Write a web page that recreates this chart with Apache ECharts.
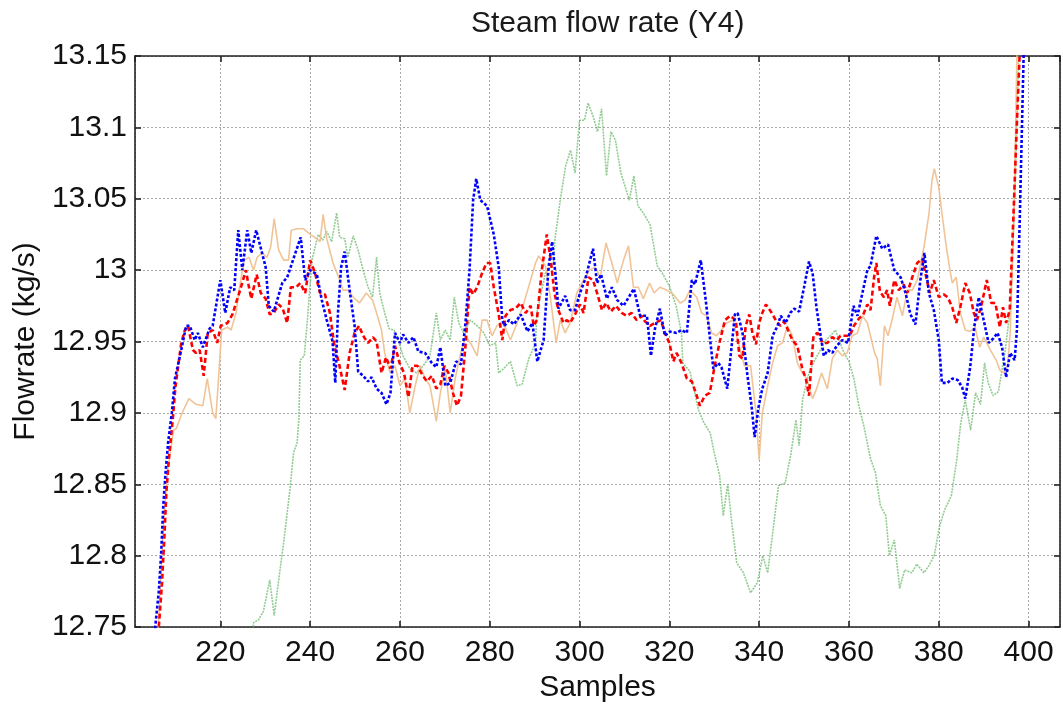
<!DOCTYPE html>
<html>
<head>
<meta charset="utf-8">
<script src="https://cdn.jsdelivr.net/npm/echarts@6/dist/echarts.min.js"></script>
<style>
html,body{margin:0;padding:0;background:#fff;}
#chart{width:1063px;height:704px;}
</style>
</head>
<body>
<div id="chart"></div>
<script>
var titleText = 'Steam flow rate (Y4)';
var xName = 'Samples';
var yName = 'Flowrate (kg/s)';

var blueSamples = [204.5,205.5,206.3,206.8,207.3,207.8,208.4,209.2,209.9,211.3,212.4,213.2,214.3,215.0,216.1,217.6,218.3,220.0,221.1,222.2,223.1,224.0,224.9,226.0,226.9,228.0,230.1,230.8,231.9,233.8,234.9,237.9,238.9,240.0,241.5,242.6,243.7,245.0,245.6,246.2,246.9,247.7,248.8,249.9,250.7,251.8,252.9,253.7,254.8,255.9,257.0,257.9,258.9,260.0,260.7,261.9,263.0,264.1,265.6,267.1,268.1,269.0,270.1,271.2,272.5,273.6,274.6,275.5,276.3,277.0,277.9,279.4,280.9,282.0,282.8,283.3,284.3,285.4,286.9,288.4,289.5,290.6,292.0,293.1,293.9,294.6,295.3,296.8,297.9,299.0,300.1,301.3,303.0,303.9,304.8,306.1,307.2,308.4,309.8,312.1,313.5,315.0,315.9,316.8,317.9,319.0,320.1,321.6,322.7,323.9,325.0,325.7,327.0,328.1,329.8,330.9,331.6,332.9,334.6,335.2,336.3,337.4,338.3,339.0,339.8,340.7,341.9,343.0,344.1,344.8,345.9,346.9,347.8,348.9,350.0,351.1,351.9,352.8,353.7,354.4,355.3,356.3,357.3,358.5,359.8,361.0,361.9,364.1,364.8,366.1,367.4,368.7,370.1,371.5,372.6,373.7,374.8,375.9,376.8,377.8,378.9,380.0,380.7,381.9,383.0,384.2,385.2,385.9,387.0,387.9,388.9,390.0,391.1,392.1,393.1,394.1,395.0,395.9,396.9,397.4,398.1,398.9,399.5];
var blueFlow = [12.70,12.75,12.775,12.80,12.835,12.858,12.88,12.90,12.924,12.944,12.961,12.961,12.951,12.956,12.946,12.959,12.961,12.993,12.970,12.988,12.986,13.028,13.000,13.028,13.012,13.028,13.002,12.975,12.971,12.991,12.995,13.023,12.993,13.000,12.997,12.979,12.965,12.950,12.921,12.970,13.002,13.013,12.986,12.961,12.929,12.926,12.922,12.925,12.917,12.914,12.906,12.914,12.956,12.949,12.955,12.949,12.953,12.943,12.942,12.935,12.932,12.946,12.919,12.921,12.936,12.934,12.963,13.000,13.049,13.064,13.049,13.045,13.025,13.002,12.965,12.961,12.965,12.962,12.969,12.957,12.963,12.936,12.951,13.002,13.020,12.998,12.973,12.982,12.972,12.972,12.984,12.994,13.015,12.991,12.997,12.980,12.988,12.979,12.975,12.987,12.968,12.968,12.940,12.959,12.973,12.954,12.957,12.956,12.958,12.956,12.993,12.990,13.007,12.979,12.931,12.935,12.932,12.917,12.969,12.970,12.956,12.926,12.905,12.883,12.903,12.917,12.928,12.954,12.961,12.968,12.963,12.970,12.973,12.971,12.988,13.006,12.998,12.973,12.954,12.940,12.944,12.942,12.947,12.951,12.949,12.975,12.968,13.000,13.003,13.024,13.015,13.018,13.000,12.995,12.984,12.969,12.962,12.993,13.012,12.984,12.972,12.951,12.921,12.921,12.924,12.923,12.918,12.910,12.932,12.960,12.981,12.965,12.949,12.952,12.956,12.946,12.925,12.942,12.937,12.958,13.044,13.150,13.25];

var redSamples = [205.0,206.3,207.0,207.5,208.0,208.6,209.4,210.0,211.3,212.1,212.8,213.9,214.6,215.4,216.3,217.2,218.3,219.3,220.1,221.6,222.7,223.7,224.6,225.7,226.2,226.9,228.1,229.0,230.1,231.0,231.9,233.0,233.9,234.9,235.7,236.9,237.8,238.9,240.0,241.1,242.2,243.3,244.4,245.4,246.4,247.7,248.8,249.9,250.9,251.8,252.9,254.0,254.8,255.9,256.9,257.9,258.9,259.9,260.9,261.9,262.8,263.9,265.1,266.0,267.1,268.1,269.0,269.9,270.8,271.8,272.7,273.6,274.6,275.5,276.3,277.2,278.3,279.3,280.1,280.9,282.0,282.8,283.5,284.6,285.7,286.9,288.0,289.1,289.8,290.5,291.6,292.7,293.6,294.4,295.3,296.4,297.2,297.9,299.0,300.1,300.9,302.0,303.0,303.9,305.0,305.9,307.0,308.1,309.4,310.5,311.6,312.7,313.9,314.6,315.7,316.8,318.1,319.0,320.0,320.9,321.6,322.7,323.9,325.0,325.9,326.8,327.9,329.0,330.1,331.3,332.4,333.5,334.8,335.6,336.3,337.0,337.8,338.5,339.3,340.0,340.7,341.5,342.6,343.7,344.7,345.6,346.7,347.4,348.5,349.6,350.4,351.1,352.1,353.0,354.1,355.2,356.3,357.3,358.1,359.3,360.2,361.1,362.2,363.2,364.1,364.8,365.6,366.1,366.9,367.8,368.5,369.1,370.1,371.1,372.2,373.0,374.1,375.2,376.3,377.0,378.0,378.9,380.0,381.1,382.0,383.0,383.9,384.8,385.9,386.9,387.8,388.5,389.4,390.7,391.7,392.6,393.6,394.3,395.0,395.8,396.7,397.4,398.0,398.7];
var redFlow = [12.70,12.75,12.78,12.81,12.845,12.87,12.895,12.918,12.949,12.958,12.961,12.944,12.942,12.944,12.926,12.956,12.958,12.949,12.961,12.963,12.969,12.979,12.988,13.000,12.991,12.980,12.997,12.984,12.980,12.969,12.970,12.976,12.973,12.963,12.988,12.988,12.991,12.984,13.007,12.998,12.984,12.983,12.970,12.947,12.935,12.916,12.942,12.956,12.961,12.954,12.949,12.953,12.950,12.928,12.939,12.931,12.947,12.935,12.928,12.911,12.933,12.933,12.926,12.922,12.926,12.917,12.920,12.933,12.928,12.914,12.905,12.912,12.947,12.988,12.983,12.988,12.998,13.005,13.005,12.988,12.969,12.951,12.968,12.972,12.973,12.977,12.970,12.975,12.961,12.965,13.000,13.025,13.007,12.984,12.972,12.963,12.965,12.963,12.969,12.976,12.970,12.995,12.993,12.984,12.972,12.977,12.971,12.975,12.970,12.968,12.970,12.965,12.968,12.964,12.961,12.963,12.965,12.956,12.949,12.936,12.942,12.935,12.924,12.922,12.914,12.905,12.912,12.914,12.933,12.951,12.965,12.968,12.965,12.940,12.938,12.961,12.969,12.956,12.948,12.963,12.970,12.976,12.971,12.965,12.961,12.964,12.956,12.951,12.947,12.931,12.924,12.912,12.954,12.956,12.949,12.949,12.953,12.951,12.954,12.954,12.954,12.961,12.966,12.969,12.976,12.972,12.995,13.005,12.985,12.981,12.986,12.975,12.993,12.986,12.990,12.984,12.995,13.005,13.008,12.998,12.984,12.993,12.981,12.983,12.981,12.974,12.963,12.974,12.991,12.984,12.970,12.965,12.974,12.993,12.977,12.977,12.960,12.974,12.963,12.972,13.044,13.103,13.150,13.25];

var orangeSamples = [205.0,206.2,207.3,208.3,209.6,210.2,211.5,213.0,214.6,216.1,217.1,218.3,219.0,219.6,220.3,221.6,222.4,223.5,224.2,225.3,226.4,227.4,228.2,229.3,230.4,231.2,232.0,233.0,234.1,235.2,235.8,237.1,238.5,240.0,241.5,242.2,242.9,243.7,245.1,246.6,247.3,248.4,249.6,251.0,252.5,253.9,254.8,255.9,256.6,257.8,258.9,260.0,261.1,262.2,263.4,264.5,265.6,266.7,268.1,269.0,270.1,271.2,272.3,273.4,274.6,275.7,277.2,278.3,279.4,280.5,281.6,283.1,284.6,286.1,287.6,289.1,290.2,290.9,292.4,293.5,294.8,295.7,296.8,297.9,299.4,300.9,302.2,303.5,304.6,305.9,307.2,308.4,309.8,310.9,312.0,313.1,314.2,315.6,316.6,317.9,319.4,320.9,322.4,323.5,324.6,326.1,327.2,328.3,329.4,330.5,331.6,332.7,334.2,335.2,336.7,338.1,339.3,340.0,340.7,341.9,343.0,344.1,345.2,346.3,347.4,348.5,349.6,350.6,351.9,352.8,353.9,355.2,356.3,357.4,358.5,359.6,360.7,361.9,363.0,364.1,364.8,365.7,366.3,367.0,367.9,368.7,369.6,370.7,371.9,373.0,374.1,375.2,376.7,377.8,378.5,379.0,380.0,380.7,381.7,382.6,383.0,383.9,384.8,385.9,387.0,388.1,389.1,390.0,391.5,392.8,393.6,394.4,395.3,395.9,396.8,397.4,398.0];
var orangeFlow = [12.70,12.75,12.82,12.86,12.888,12.889,12.900,12.910,12.906,12.905,12.924,12.900,12.896,12.924,12.958,12.960,12.958,12.970,12.986,13.007,13.009,13.000,13.009,13.012,13.009,13.016,13.036,13.014,13.007,13.007,13.028,13.029,13.029,13.025,13.022,13.020,13.039,13.022,13.005,12.993,12.986,12.986,12.981,12.977,12.984,12.979,12.970,12.958,12.942,12.928,12.933,12.919,12.924,12.900,12.919,12.933,12.924,12.919,12.894,12.914,12.931,12.900,12.924,12.940,12.954,12.949,12.940,12.965,12.965,12.954,12.961,12.963,12.951,12.963,12.977,12.993,13.005,13.010,13.003,12.981,12.949,12.965,12.956,12.963,12.984,12.993,13.000,13.002,12.995,13.019,13.005,12.991,13.007,13.017,12.988,12.988,12.980,12.991,12.984,12.988,12.986,12.983,12.977,12.979,12.986,12.981,12.970,12.968,12.956,12.954,12.958,12.963,12.965,12.951,12.933,12.933,12.900,12.867,12.900,12.919,12.935,12.947,12.949,12.961,12.954,12.935,12.928,12.924,12.910,12.917,12.928,12.917,12.938,12.944,12.940,12.942,12.954,12.956,12.968,12.963,12.954,12.942,12.938,12.919,12.961,12.954,12.965,12.981,12.968,12.986,12.986,12.993,13.016,13.039,13.063,13.071,13.058,13.040,13.016,12.998,12.991,12.995,12.970,12.958,12.957,12.960,12.946,12.953,12.944,12.937,12.930,12.928,12.932,12.956,13.044,13.150,13.25];

var greenSamples = [226.0,227.4,228.5,229.6,231.0,232.0,233.0,234.1,235.6,236.3,237.1,237.5,237.8,238.7,239.4,240.4,241.1,241.8,242.8,243.7,244.8,245.9,246.6,247.7,248.4,249.6,250.7,251.8,252.9,253.9,254.8,255.5,256.6,257.6,258.7,259.6,260.7,262.2,263.7,265.2,266.7,268.1,269.0,270.1,271.2,272.1,273.1,274.2,275.7,277.2,278.7,280.0,281.3,282.0,283.1,284.6,286.1,287.2,288.7,290.2,290.5,292.4,294.2,294.5,295.7,296.9,298.0,299.0,300.0,301.1,301.9,303.0,304.0,304.9,306.0,307.0,308.0,309.2,311.1,312.1,313.0,314.2,315.7,317.3,318.4,320.0,321.5,322.7,323.0,324.6,326.5,327.7,329.1,330.0,331.2,332.0,333.0,333.9,335.0,336.5,338.1,339.6,340.8,341.9,343.1,344.3,345.8,347.0,348.2,348.9,349.7,351.1,352.2,353.3,354.8,355.9,357.0,357.8,358.9,360.0,361.1,362.2,363.3,364.8,365.9,367.0,368.2,369.0,370.1,371.3,372.4,374.0,375.1,376.7,377.8,379.0,380.2,381.3,382.8,384.0,384.9,385.9,387.1,388.2,389.3,390.2,391.0,392.1,393.3,394.8,396.0,397.0,397.8,398.5];
var greenFlow = [12.70,12.753,12.755,12.761,12.783,12.758,12.783,12.809,12.849,12.872,12.879,12.896,12.937,12.940,12.965,13.007,13.016,13.025,13.021,13.027,13.020,13.040,13.023,13.022,13.009,13.024,13.014,13.000,12.988,12.981,13.009,12.984,12.970,12.959,12.958,12.951,12.940,12.931,12.928,12.933,12.940,12.970,12.951,12.958,12.951,12.981,12.963,12.956,12.965,12.961,12.956,12.947,12.949,12.928,12.931,12.936,12.919,12.920,12.938,12.949,12.970,12.998,13.005,13.021,13.049,13.073,13.084,13.068,13.105,13.105,13.117,13.108,13.097,13.113,13.066,13.097,13.091,13.068,13.049,13.066,13.045,13.040,13.032,13.003,12.998,12.989,12.975,12.956,12.935,12.929,12.902,12.893,12.886,12.872,12.856,12.828,12.850,12.823,12.795,12.788,12.774,12.781,12.800,12.788,12.818,12.849,12.851,12.870,12.895,12.877,12.910,12.928,12.936,12.942,12.951,12.954,12.958,12.951,12.942,12.936,12.924,12.905,12.891,12.868,12.858,12.835,12.828,12.800,12.811,12.777,12.790,12.788,12.794,12.788,12.793,12.800,12.821,12.832,12.842,12.867,12.893,12.909,12.888,12.914,12.906,12.935,12.921,12.912,12.915,12.944,12.975,13.06,13.15,13.25];

function pairs(xs, ys) { return xs.map(function (x, i) { return [x, ys[i]]; }); }

var FONT = 'Liberation Sans, Arial, sans-serif';
var chart = echarts.init(document.getElementById('chart'), null, { renderer: 'canvas' });

var axisLineStyle = { color: '#222', width: 1.6 };
var gridStyle = { color: '#a8a8a8', width: 1, type: [2, 2] };
var tickStyle = { show: true, inside: true, length: 6, lineStyle: { color: '#222', width: 1.6 } };

chart.setOption({
  backgroundColor: '#ffffff',
  animation: false,
  title: {
    text: titleText,
    left: 466, top: 4,
    textStyle: { fontFamily: FONT, fontSize: 30, fontWeight: 'normal', color: '#1a1a1a' }
  },
  grid: { left: 135, top: 56, width: 925, height: 571, containLabel: false, outerBoundsMode: 'none' },
  xAxis: [{
    type: 'value', min: 201, max: 407, splitNumber: 10,
    name: xName, nameLocation: 'middle', nameGap: 45,
    nameTextStyle: { fontFamily: FONT, fontSize: 30, color: '#111' },
    axisLine: { show: true, onZero: false, lineStyle: axisLineStyle },
    axisTick: tickStyle,
    axisLabel: { fontFamily: FONT, fontSize: 30, color: '#111', margin: 11, showMinLabel: false, showMaxLabel: false },
    splitLine: { show: true, lineStyle: gridStyle }
  }, {
    type: 'value', min: 201, max: 407, splitNumber: 10, position: 'top',
    axisLine: { show: true, onZero: false, lineStyle: axisLineStyle },
    axisTick: tickStyle,
    axisLabel: { show: false }, splitLine: { show: false }
  }],
  yAxis: [{
    type: 'value', min: 12.75, max: 13.15, interval: 0.05,
    name: yName, nameLocation: 'middle', nameGap: 92,
    nameTextStyle: { fontFamily: FONT, fontSize: 30, color: '#111' },
    axisLine: { show: true, onZero: false, lineStyle: axisLineStyle },
    axisTick: tickStyle,
    axisLabel: { fontFamily: FONT, fontSize: 30, color: '#111', margin: 8 },
    splitLine: { show: true, lineStyle: gridStyle }
  }, {
    type: 'value', min: 12.75, max: 13.15, interval: 0.05, position: 'right',
    axisLine: { show: true, onZero: false, lineStyle: axisLineStyle },
    axisTick: tickStyle,
    axisLabel: { show: false }, splitLine: { show: false }
  }],
  series: [{
    name: 'green', type: 'line', showSymbol: false, clip: true,
    data: pairs(greenSamples, greenFlow),
    lineStyle: { color: 'rgba(110,185,110,0.75)', width: 1.6, type: [2, 1] }
  }, {
    name: 'orange', type: 'line', showSymbol: false, clip: true,
    data: pairs(orangeSamples, orangeFlow),
    lineStyle: { color: 'rgba(240,190,140,0.9)', width: 1.6, type: 'solid' }
  }, {
    name: 'red', type: 'line', showSymbol: false, clip: true,
    data: pairs(redSamples, redFlow),
    lineStyle: { color: '#ff0000', width: 2.6, type: [5, 3] }
  }, {
    name: 'blue', type: 'line', showSymbol: false, clip: true,
    data: pairs(blueSamples, blueFlow),
    lineStyle: { color: '#0000ff', width: 2.6, type: [3, 2] }
  }]
});
</script>
</body>
</html>
